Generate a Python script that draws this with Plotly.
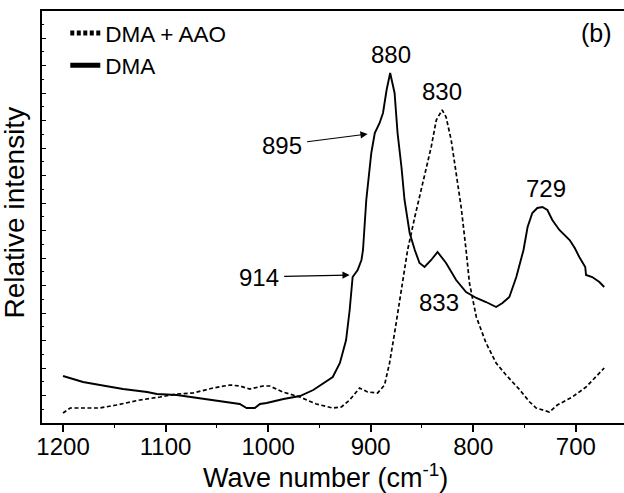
import plotly.graph_objects as go

# DMA (solid)
dma_wn = [1200, 1180.5, 1164, 1141.5, 1118, 1108.5, 1089, 1067, 1040.5, 1027.7, 1021, 1013, 1008, 1001.5,
          985, 969, 956, 950, 937, 930, 924, 920.5, 917.6, 912.7, 909, 907.5, 904.3, 899.4, 896, 891.3,
          888, 884.5, 881, 876.7, 873.8, 870, 867, 862, 857, 852.4, 847.5, 841, 834.8, 826.5, 816.7,
          807, 797, 787.5, 777.7, 771.5, 764.8, 758, 753.4, 751, 747, 742.4, 737.5, 732.6, 727.7, 722.9,
          716, 706, 701, 696.6, 690.8, 690, 684, 677, 672.3]
dma_int = [47, 41, 38, 34, 31, 29, 28, 25, 21, 19, 15, 15, 19, 20,
           24, 27, 33, 37, 46, 60, 83, 113, 146, 153, 163, 173, 223, 270, 290, 300,
           310, 333, 350, 330, 290, 256, 223, 190, 173, 160, 156, 163, 171, 160, 143,
           131, 125, 121, 116, 120, 126, 146, 163, 173, 196, 210, 215, 216, 213, 203,
           193, 183, 175, 166, 156, 148, 146, 141, 136]

# DMA + AAO (dashed)
aao_wn = [1200, 1193, 1177, 1164, 1148, 1125, 1105.5, 1089, 1073, 1053.7, 1037, 1027.7, 1018, 1005,
          998.5, 985.8, 969, 953, 937, 928.6, 920.5, 910.8, 903, 893.3, 886.5, 881.6, 876.7, 871.9,
          867, 864, 857, 849.5, 841, 836, 830.3, 826.5, 821.5, 816.7, 811.8, 807, 803.7, 797, 787.5,
          777.7, 768, 754.5, 745, 738.7, 725.8, 718, 703.4, 690, 680.4, 672.3]
aao_int = [10, 15, 15, 15, 18, 23, 26, 29, 30, 35, 38, 37, 34, 37,
           37, 31, 26, 19, 15, 16, 23, 35, 31, 30, 38, 60, 90, 123,
           156, 173, 206, 240, 276, 303, 313, 306, 283, 250, 216, 173, 140, 106, 80,
           60, 48, 33, 21, 15, 11, 18, 26, 36, 46, 55]

x_ticks = [1200, 1100, 1000, 900, 800, 700]

FONT = "Liberation Sans, Arial, sans-serif"

fig = go.Figure()
fig.add_trace(go.Scatter(x=aao_wn, y=aao_int, mode="lines", name="DMA + AAO",
                         line=dict(color="black", width=1.7, dash="4px,2.5px")))
fig.add_trace(go.Scatter(x=dma_wn, y=dma_int, mode="lines", name="DMA",
                         line=dict(color="black", width=1.9)))

for (px, py, t) in [(880, 350, "880"), (830, 313, "830"), (729, 216, "729")]:
    fig.add_annotation(x=px, y=py, text=t, showarrow=False, xanchor="center", yanchor="bottom",
                       yshift=3, font=dict(size=24, color="black", family=FONT))
fig.add_annotation(x=833, y=121, text="833", showarrow=False, xanchor="center", yanchor="middle",
                   font=dict(size=24, color="black", family=FONT))

fig.add_annotation(x=903, y=289, text="895", showarrow=True, arrowhead=2, arrowsize=1.2,
                   arrowwidth=1.2, arrowcolor="black", ax=-86, ay=11, borderpad=5,
                   font=dict(size=24, color="black", family=FONT))
fig.add_annotation(x=920.5, y=148, text="914", showarrow=True, arrowhead=2, arrowsize=1.2,
                   arrowwidth=1.2, arrowcolor="black", ax=-91, ay=2, borderpad=5,
                   font=dict(size=24, color="black", family=FONT))

fig.add_annotation(x=0.953, y=0.947, xref="paper", yref="paper", text="(b)", showarrow=False,
                   xanchor="center", yanchor="middle", font=dict(size=25, color="black", family=FONT))

fig.add_annotation(x=0.487, y=-0.128, xref="paper", yref="paper",
                   text="Wave number (cm<sup>-1</sup>)", showarrow=False,
                   xanchor="center", yanchor="middle", font=dict(size=27, color="black", family=FONT))
fig.add_annotation(x=-0.047, y=0.51, xref="paper", yref="paper", textangle=-90,
                   text="Relative intensity", showarrow=False,
                   xanchor="center", yanchor="middle", font=dict(size=28, color="black", family=FONT))

fig.update_layout(
    width=624, height=493,
    margin=dict(l=42, r=0, t=11, b=70),
    plot_bgcolor="white", paper_bgcolor="white",
    font=dict(family=FONT, color="black"),
    showlegend=True,
    legend=dict(x=0.04, y=0.998, xanchor="left", yanchor="top", bgcolor="rgba(0,0,0,0)",
                font=dict(size=22.5, family=FONT, color="black"), tracegroupgap=0,
                itemsizing="constant"),
    xaxis=dict(range=[1220.5, 653], tickvals=x_ticks, ticktext=[str(v) for v in x_ticks],
               ticks="outside", ticklen=7, tickwidth=1.5, tickcolor="black",
               minor=dict(dtick=50, ticks="outside", ticklen=3, tickcolor="black", tickwidth=1),
               showline=True, linecolor="black", linewidth=1.8, mirror=True,
               showgrid=False, zeroline=False, ticklabelstandoff=-6,
               tickfont=dict(size=24, family=FONT, color="black")),
    yaxis=dict(range=[0, 412], showticklabels=False, ticks="inside", ticklen=4, tickwidth=1,
               tickcolor="black", tick0=0, dtick=27.5,
               minor=dict(dtick=13.75, ticks="inside", ticklen=2, tickcolor="black"),
               showline=True, linecolor="black", linewidth=1.8, mirror=False,
               showgrid=False, zeroline=False),
)

fig.write_html("out.html", config={"displayModeBar": False},
               post_script="document.body.style.margin='0';document.body.style.overflow='hidden';")
